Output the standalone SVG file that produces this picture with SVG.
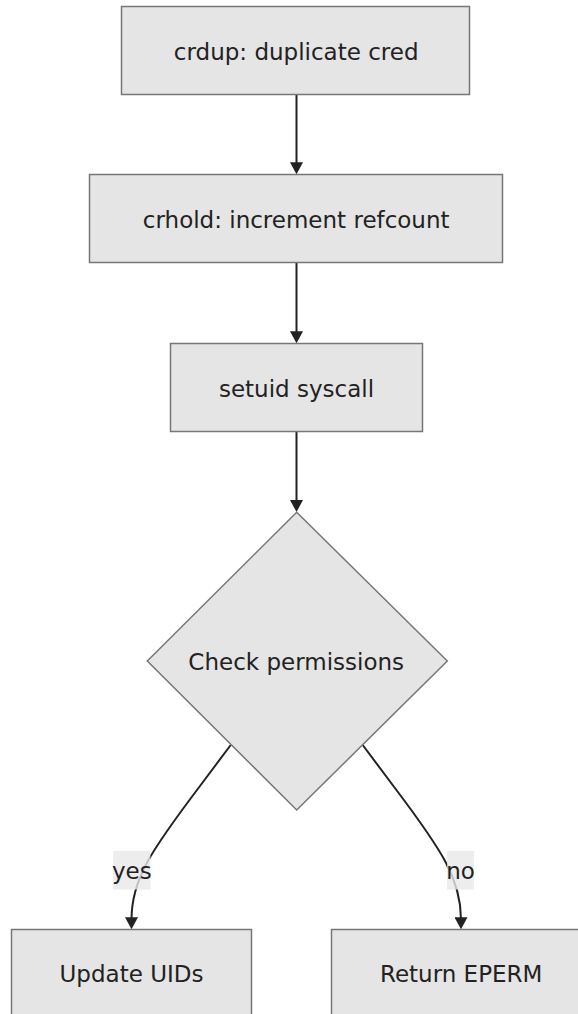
<svg xmlns="http://www.w3.org/2000/svg" width="578" height="1014" viewBox="0 0 578 1014">
  <style>
    .node rect, .node polygon { fill: #e5e5e5; stroke: #777777; stroke-width: 1.5; }
    .label { font-family: "DejaVu Sans", Verdana, sans-serif; font-size: 23px; fill: #222222; text-anchor: middle; }
    .edge { fill: none; stroke: #222222; stroke-width: 2; marker-end: url(#arrow); }
    .edge-label rect { fill: rgba(232, 232, 232, 0.8); stroke: none; }
  </style>
  <defs>
    <marker id="arrow" viewBox="0 0 12 13" refX="2" refY="6.5" markerWidth="12" markerHeight="13" markerUnits="userSpaceOnUse" orient="auto">
      <path d="M0,0 L12,6.5 L0,13 z" fill="#222222"/>
    </marker>
  </defs>

  <rect width="578" height="1014" fill="#ffffff"/>

  <!-- connectors -->
  <g id="edges">
    <path class="edge" d="M296.5,94.5 L296.5,164.3"/>
    <path class="edge" d="M296.5,262.5 L296.5,333.3"/>
    <path class="edge" d="M296.5,431.5 L296.5,502"/>
    <path class="edge" d="M230.7,745 L200,786 C150,852 131.5,880 131.5,919.3"/>
    <path class="edge" d="M362.7,745 L393.4,786 C443.4,852 461,880 461,919.3"/>
  </g>

  <!-- edge labels -->
  <g id="edge-labels">
    <g class="edge-label" id="label-yes">
      <rect x="113.2" y="851" width="37.2" height="38.5"/>
      <text class="label" x="131.8" y="878.5">yes</text>
    </g>
    <g class="edge-label" id="label-no">
      <rect x="447.1" y="851" width="26.9" height="38.5"/>
      <text class="label" x="460.5" y="878.5">no</text>
    </g>
  </g>

  <!-- nodes -->
  <g class="node" id="crdup">
    <rect x="121.5" y="6.5" width="348" height="88"/>
    <text class="label" x="296.2" y="59.5">crdup: duplicate cred</text>
  </g>
  <g class="node" id="crhold">
    <rect x="89.5" y="174.5" width="413" height="88"/>
    <text class="label" x="296.2" y="227.5">crhold: increment refcount</text>
  </g>
  <g class="node" id="setuid">
    <rect x="170.5" y="343.5" width="252" height="88"/>
    <text class="label" x="296.5" y="396.5">setuid syscall</text>
  </g>
  <g class="node" id="check">
    <polygon points="296.7,512.3 447.3,661 296.7,810 147.3,661"/>
    <text class="label" x="296.2" y="669.5">Check permissions</text>
  </g>
  <g class="node" id="update">
    <rect x="11.5" y="929.5" width="240" height="88"/>
    <text class="label" x="131.5" y="982">Update UIDs</text>
  </g>
  <g class="node" id="eperm">
    <rect x="331.5" y="929.5" width="259" height="88"/>
    <text class="label" x="461.2" y="982">Return EPERM</text>
  </g>
</svg>
